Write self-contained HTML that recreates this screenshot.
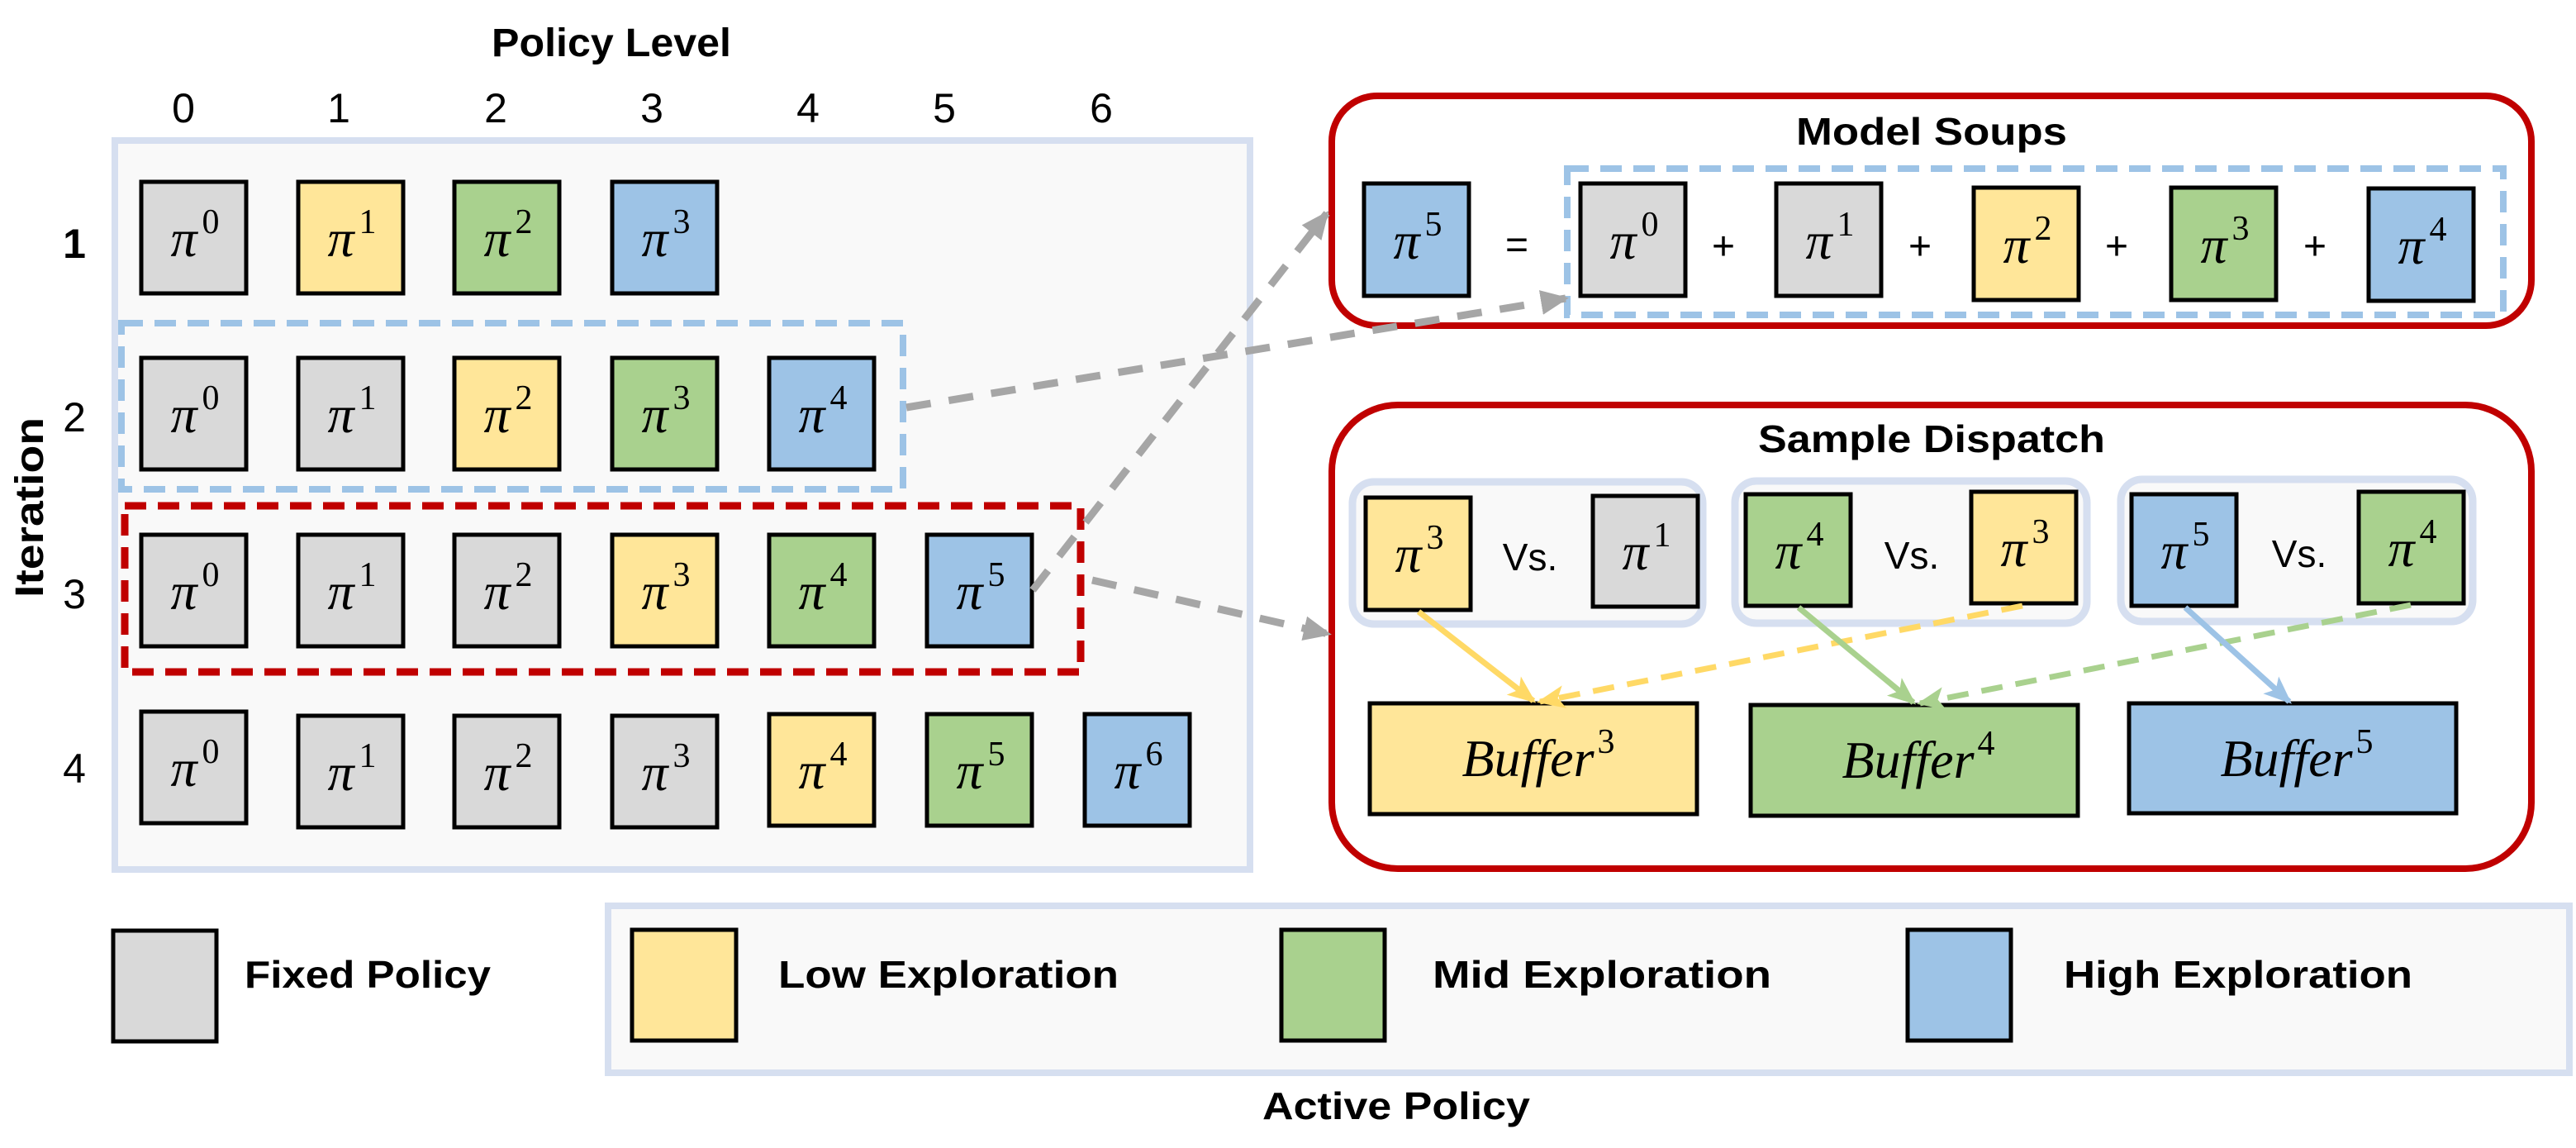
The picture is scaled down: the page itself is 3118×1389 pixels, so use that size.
<!DOCTYPE html>
<html><head><meta charset="utf-8"><style>
html,body{margin:0;padding:0;background:#fff;}
svg{display:block;}
.b{font-family:"Liberation Sans",sans-serif;font-weight:bold;}
.n{font-family:"Liberation Sans",sans-serif;}
.p{font-family:"Liberation Serif",serif;font-size:64px;}
.p tspan.s{font-style:normal;font-size:42px;}
</style></head><body>
<svg width="3118" height="1389" viewBox="0 0 3118 1389" xmlns="http://www.w3.org/2000/svg">
<defs>
<marker id="ga" markerWidth="36" markerHeight="36" refX="30" refY="18" orient="auto" markerUnits="userSpaceOnUse"><path d="M0,3 L34,18 L0,33 z" fill="#a6a6a6"/></marker>
<marker id="ya" markerWidth="36" markerHeight="36" refX="30" refY="18" orient="auto" markerUnits="userSpaceOnUse"><path d="M0,4 L34,18 L0,32 L8,18 z" fill="#ffd966"/></marker>
<marker id="gra" markerWidth="36" markerHeight="36" refX="30" refY="18" orient="auto" markerUnits="userSpaceOnUse"><path d="M0,4 L34,18 L0,32 L8,18 z" fill="#a9d18e"/></marker>
<marker id="ba" markerWidth="36" markerHeight="36" refX="30" refY="18" orient="auto" markerUnits="userSpaceOnUse"><path d="M0,4 L34,18 L0,32 L8,18 z" fill="#9dc3e6"/></marker>
</defs>

<!-- Left panel -->
<text class="b" x="740" y="68" font-size="48" text-anchor="middle" textLength="290" lengthAdjust="spacingAndGlyphs">Policy Level</text>
<g class="n" font-size="50" text-anchor="middle">
<text x="222" y="148">0</text><text x="410" y="148">1</text><text x="600" y="148">2</text><text x="789" y="148">3</text><text x="978" y="148">4</text><text x="1143" y="148">5</text><text x="1333" y="148">6</text>
<text x="90" y="312" class="b">1</text><text x="90" y="522">2</text><text x="90" y="736">3</text><text x="90" y="947">4</text>
</g>
<text class="b" transform="translate(52,614) rotate(-90)" font-size="48" text-anchor="middle" textLength="218" lengthAdjust="spacingAndGlyphs">Iteration</text>

<rect x="139" y="170" width="1374" height="882" fill="#f9f9f9" stroke="#d6dff0" stroke-width="8"/>

<g stroke="#000" stroke-width="5">
<rect x="171" y="220" width="127" height="135" fill="#d9d9d9"/>
<rect x="361" y="220" width="127" height="135" fill="#ffe699"/>
<rect x="550" y="220" width="127" height="135" fill="#a9d18e"/>
<rect x="741" y="220" width="127" height="135" fill="#9dc3e6"/>
<rect x="171" y="433" width="127" height="135" fill="#d9d9d9"/>
<rect x="361" y="433" width="127" height="135" fill="#d9d9d9"/>
<rect x="550" y="433" width="127" height="135" fill="#ffe699"/>
<rect x="741" y="433" width="127" height="135" fill="#a9d18e"/>
<rect x="931" y="433" width="127" height="135" fill="#9dc3e6"/>
<rect x="171" y="647" width="127" height="135" fill="#d9d9d9"/>
<rect x="361" y="647" width="127" height="135" fill="#d9d9d9"/>
<rect x="550" y="647" width="127" height="135" fill="#d9d9d9"/>
<rect x="741" y="647" width="127" height="135" fill="#ffe699"/>
<rect x="931" y="647" width="127" height="135" fill="#a9d18e"/>
<rect x="1122" y="647" width="127" height="135" fill="#9dc3e6"/>
<rect x="171" y="861" width="127" height="135" fill="#d9d9d9"/>
<rect x="361" y="866" width="127" height="135" fill="#d9d9d9"/>
<rect x="550" y="866" width="127" height="135" fill="#d9d9d9"/>
<rect x="741" y="866" width="127" height="135" fill="#d9d9d9"/>
<rect x="931" y="864" width="127" height="135" fill="#ffe699"/>
<rect x="1122" y="864" width="127" height="135" fill="#a9d18e"/>
<rect x="1313" y="864" width="127" height="135" fill="#9dc3e6"/>
</g>

<g class="p" text-anchor="middle">
<text x="236" y="310"><tspan font-style="italic">π</tspan><tspan class="s" dx="6" dy="-28">0</tspan></text>
<text x="426" y="310"><tspan font-style="italic">π</tspan><tspan class="s" dx="6" dy="-28">1</tspan></text>
<text x="615" y="310"><tspan font-style="italic">π</tspan><tspan class="s" dx="6" dy="-28">2</tspan></text>
<text x="806" y="310"><tspan font-style="italic">π</tspan><tspan class="s" dx="6" dy="-28">3</tspan></text>

<text x="236" y="523"><tspan font-style="italic">π</tspan><tspan class="s" dx="6" dy="-28">0</tspan></text>
<text x="426" y="523"><tspan font-style="italic">π</tspan><tspan class="s" dx="6" dy="-28">1</tspan></text>
<text x="615" y="523"><tspan font-style="italic">π</tspan><tspan class="s" dx="6" dy="-28">2</tspan></text>
<text x="806" y="523"><tspan font-style="italic">π</tspan><tspan class="s" dx="6" dy="-28">3</tspan></text>
<text x="996" y="523"><tspan font-style="italic">π</tspan><tspan class="s" dx="6" dy="-28">4</tspan></text>

<text x="236" y="737"><tspan font-style="italic">π</tspan><tspan class="s" dx="6" dy="-28">0</tspan></text>
<text x="426" y="737"><tspan font-style="italic">π</tspan><tspan class="s" dx="6" dy="-28">1</tspan></text>
<text x="615" y="737"><tspan font-style="italic">π</tspan><tspan class="s" dx="6" dy="-28">2</tspan></text>
<text x="806" y="737"><tspan font-style="italic">π</tspan><tspan class="s" dx="6" dy="-28">3</tspan></text>
<text x="996" y="737"><tspan font-style="italic">π</tspan><tspan class="s" dx="6" dy="-28">4</tspan></text>
<text x="1187" y="737"><tspan font-style="italic">π</tspan><tspan class="s" dx="6" dy="-28">5</tspan></text>

<text x="236" y="951"><tspan font-style="italic">π</tspan><tspan class="s" dx="6" dy="-28">0</tspan></text>
<text x="426" y="956"><tspan font-style="italic">π</tspan><tspan class="s" dx="6" dy="-28">1</tspan></text>
<text x="615" y="956"><tspan font-style="italic">π</tspan><tspan class="s" dx="6" dy="-28">2</tspan></text>
<text x="806" y="956"><tspan font-style="italic">π</tspan><tspan class="s" dx="6" dy="-28">3</tspan></text>
<text x="996" y="954"><tspan font-style="italic">π</tspan><tspan class="s" dx="6" dy="-28">4</tspan></text>
<text x="1187" y="954"><tspan font-style="italic">π</tspan><tspan class="s" dx="6" dy="-28">5</tspan></text>
<text x="1378" y="954"><tspan font-style="italic">π</tspan><tspan class="s" dx="6" dy="-28">6</tspan></text>
</g>

<rect x="147" y="391" width="946" height="201" fill="none" stroke="#9dc3e6" stroke-width="8" stroke-dasharray="26 14"/>
<rect x="151" y="612" width="1157" height="201" fill="none" stroke="#c00000" stroke-width="9" stroke-dasharray="26 14"/>

<!-- Model Soups -->
<rect x="1612" y="116" width="1452" height="278" rx="55" fill="#fff" stroke="#c00000" stroke-width="8"/>
<text class="b" x="2338" y="175" font-size="46" text-anchor="middle" textLength="328" lengthAdjust="spacingAndGlyphs">Model Soups</text>
<rect x="1897" y="204" width="1133" height="177" fill="none" stroke="#9dc3e6" stroke-width="8" stroke-dasharray="26 14"/>
<g stroke="#000" stroke-width="5">
<rect x="1651" y="222" width="127" height="136" fill="#9dc3e6"/>
<rect x="1913" y="222" width="127" height="136" fill="#d9d9d9"/>
<rect x="2150" y="222" width="127" height="136" fill="#d9d9d9"/>
<rect x="2389" y="227" width="127" height="136" fill="#ffe699"/>
<rect x="2628" y="227" width="127" height="136" fill="#a9d18e"/>
<rect x="2867" y="228" width="127" height="136" fill="#9dc3e6"/>
</g>
<g class="p" text-anchor="middle">
<text x="1716" y="313"><tspan font-style="italic">π</tspan><tspan class="s" dx="6" dy="-28">5</tspan></text>
<text x="1978" y="313"><tspan font-style="italic">π</tspan><tspan class="s" dx="6" dy="-28">0</tspan></text>
<text x="2215" y="313"><tspan font-style="italic">π</tspan><tspan class="s" dx="6" dy="-28">1</tspan></text>
<text x="2454" y="318"><tspan font-style="italic">π</tspan><tspan class="s" dx="6" dy="-28">2</tspan></text>
<text x="2693" y="318"><tspan font-style="italic">π</tspan><tspan class="s" dx="6" dy="-28">3</tspan></text>
<text x="2932" y="319"><tspan font-style="italic">π</tspan><tspan class="s" dx="6" dy="-28">4</tspan></text>
</g>
<g class="n" font-size="48" text-anchor="middle">
<text x="1836" y="312">=</text>
<text x="2086" y="314">+</text><text x="2324" y="314">+</text><text x="2562" y="314">+</text><text x="2802" y="314">+</text>
</g>

<!-- Sample Dispatch -->
<rect x="1612" y="490" width="1452" height="561" rx="80" fill="#fff" stroke="#c00000" stroke-width="8"/>
<text class="b" x="2338" y="547" font-size="46" text-anchor="middle" textLength="420" lengthAdjust="spacingAndGlyphs">Sample Dispatch</text>
<g fill="#f9f9f9" stroke="#d6dff0" stroke-width="9">
<rect x="1637" y="583" width="424" height="172" rx="26"/>
<rect x="2100" y="582" width="426" height="172" rx="26"/>
<rect x="2567" y="580" width="426" height="172" rx="26"/>
</g>
<g stroke="#000" stroke-width="5">
<rect x="1653" y="602" width="127" height="136" fill="#ffe699"/>
<rect x="1928" y="600" width="127" height="134" fill="#d9d9d9"/>
<rect x="2113" y="598" width="127" height="135" fill="#a9d18e"/>
<rect x="2386" y="595" width="127" height="135" fill="#ffe699"/>
<rect x="2580" y="598" width="127" height="135" fill="#9dc3e6"/>
<rect x="2855" y="595" width="127" height="135" fill="#a9d18e"/>
</g>
<g class="p" text-anchor="middle">
<text x="1718" y="692"><tspan font-style="italic">π</tspan><tspan class="s" dx="6" dy="-28">3</tspan></text>
<text x="1993" y="689"><tspan font-style="italic">π</tspan><tspan class="s" dx="6" dy="-28">1</tspan></text>
<text x="2178" y="688"><tspan font-style="italic">π</tspan><tspan class="s" dx="6" dy="-28">4</tspan></text>
<text x="2451" y="685"><tspan font-style="italic">π</tspan><tspan class="s" dx="6" dy="-28">3</tspan></text>
<text x="2645" y="688"><tspan font-style="italic">π</tspan><tspan class="s" dx="6" dy="-28">5</tspan></text>
<text x="2920" y="685"><tspan font-style="italic">π</tspan><tspan class="s" dx="6" dy="-28">4</tspan></text>
</g>
<g class="n" font-size="46" text-anchor="middle">
<text x="1852" y="690">Vs.</text><text x="2314" y="688">Vs.</text><text x="2783" y="686">Vs.</text>
</g>

<g stroke="#000" stroke-width="5">
<rect x="1658" y="851" width="396" height="134" fill="#ffe699"/>
<rect x="2119" y="853" width="396" height="134" fill="#a9d18e"/>
<rect x="2577" y="851" width="396" height="133" fill="#9dc3e6"/>
</g>
<g class="p" text-anchor="middle" font-size="64">
<text x="1862" y="939"><tspan font-style="italic">Buffer</tspan><tspan class="s" dx="4" dy="-28">3</tspan></text>
<text x="2322" y="941"><tspan font-style="italic">Buffer</tspan><tspan class="s" dx="4" dy="-28">4</tspan></text>
<text x="2780" y="939"><tspan font-style="italic">Buffer</tspan><tspan class="s" dx="4" dy="-28">5</tspan></text>
</g>

<g stroke-width="7" fill="none">
<line x1="1717" y1="740" x2="1856" y2="848" stroke="#ffd966" marker-end="url(#ya)"/>
<line x1="2448" y1="733" x2="1864" y2="849" stroke="#ffd966" stroke-dasharray="26 16" marker-end="url(#ya)"/>
<line x1="2177" y1="735" x2="2316" y2="850" stroke="#a9d18e" marker-end="url(#gra)"/>
<line x1="2918" y1="732" x2="2324" y2="851" stroke="#a9d18e" stroke-dasharray="26 16" marker-end="url(#gra)"/>
<line x1="2645" y1="735" x2="2771" y2="849" stroke="#9dc3e6" marker-end="url(#ba)"/>
</g>

<!-- gray connectors (on top) -->
<g stroke="#a6a6a6" stroke-width="9" stroke-dasharray="30 22" fill="none">
<line x1="1250" y1="714" x2="1606" y2="258" marker-end="url(#ga)"/>
<line x1="1097" y1="493" x2="1895" y2="361" marker-end="url(#ga)"/>
<line x1="1322" y1="702" x2="1608" y2="767" marker-end="url(#ga)"/>
</g>

<!-- Legend -->
<rect x="736" y="1096" width="2374" height="202" fill="#f9f9f9" stroke="#d6dff0" stroke-width="8"/>
<g stroke="#000" stroke-width="5">
<rect x="137" y="1126" width="125" height="134" fill="#d9d9d9"/>
<rect x="765" y="1125" width="126" height="134" fill="#ffe699"/>
<rect x="1551" y="1125" width="125" height="134" fill="#a9d18e"/>
<rect x="2309" y="1125" width="125" height="134" fill="#9dc3e6"/>
</g>
<g class="b" font-size="46">
<text x="296" y="1195" textLength="298" lengthAdjust="spacingAndGlyphs">Fixed Policy</text>
<text x="942" y="1195" textLength="412" lengthAdjust="spacingAndGlyphs">Low Exploration</text>
<text x="1734" y="1195" textLength="410" lengthAdjust="spacingAndGlyphs">Mid Exploration</text>
<text x="2498" y="1195" textLength="422" lengthAdjust="spacingAndGlyphs">High Exploration</text>
<text x="1528" y="1354" textLength="324" lengthAdjust="spacingAndGlyphs">Active Policy</text>
</g>
</svg>
</body></html>
